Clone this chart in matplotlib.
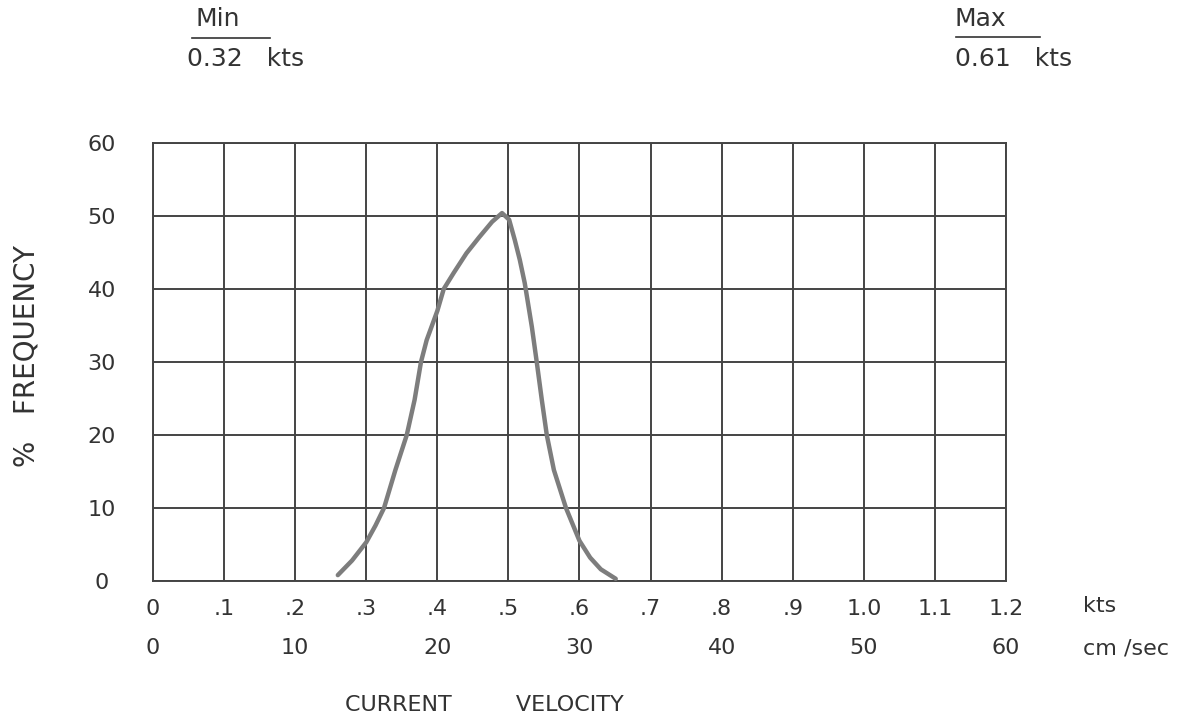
import numpy as np
import matplotlib.pyplot as plt

# Values
velocity_kts = [0.26, 0.28, 0.30, 0.313, 0.325, 0.341, 0.357, 0.368, 0.377, 0.385, 0.40,
                0.409, 0.423, 0.441, 0.459, 0.477, 0.491, 0.501, 0.509, 0.516, 0.523,
                0.533, 0.540, 0.547, 0.554, 0.564, 0.581, 0.600, 0.615, 0.630, 0.651]
frequency_pct = [0.8, 2.8, 5.3, 7.6, 10, 15.2, 20, 24.8, 30, 33, 37,
                 40, 42.2, 44.9, 47.1, 49.2, 50.4, 49.5, 46.7, 44, 40.8,
                 34.8, 29.9, 24.8, 20, 15.2, 10, 5.5, 3.2, 1.6, 0.3]

kts_ticks = [0, 0.1, 0.2, 0.3, 0.4, 0.5, 0.6, 0.7, 0.8, 0.9, 1.0, 1.1, 1.2]
kts_labels = ['0', '.1', '.2', '.3', '.4', '.5', '.6', '.7', '.8', '.9', '1.0', '1.1', '1.2']
cms_ticks = [0, 10, 20, 30, 40, 50, 60]
cms_labels = ['0', '10', '20', '30', '40', '50', '60']
freq_ticks = [0, 10, 20, 30, 40, 50, 60]
freq_labels = ['0', '10', '20', '30', '40', '50', '60']

min_kts = 0.32
max_kts = 0.61

ink = '#333333'
font = {'size': 16, 'color': ink}
head = {'size': 18, 'color': ink}

fig = plt.figure(figsize=(12.03, 7.2), dpi=100)
ax = fig.add_axes([0.1272, 0.1931, 0.709, 0.6083])

ax.plot(velocity_kts, frequency_pct, color='#7d7d7d', lw=3.2, solid_capstyle='round',
        solid_joinstyle='round', zorder=3)

ax.set_xlim(0, 1.2)
ax.set_ylim(0, 60)
ax.set_xticks(kts_ticks)
ax.set_xticklabels(kts_labels)
ax.set_yticks(freq_ticks)
ax.set_yticklabels(freq_labels, ha='center')
ax.grid(True, color='#444444', lw=1.4)
ax.tick_params(length=0, labelsize=16, labelcolor=ink)
ax.tick_params(axis='x', pad=13)
ax.tick_params(axis='y', pad=37)
for s in ax.spines.values():
    s.set_color('#444444')
    s.set_linewidth(1.4)

# second scale in cm/sec under the knots scale
sec = ax.secondary_xaxis(-0.089, functions=(lambda x: x * 50, lambda x: x / 50))
sec.set_xticks(cms_ticks)
sec.set_xticklabels(cms_labels)
sec.tick_params(length=0, labelsize=16, labelcolor=ink, pad=13)
sec.spines['bottom'].set_visible(False)

fig.text(1083 / 1203, 1 - 606 / 720, 'kts', va='center', **font)
fig.text(1083 / 1203, 1 - 648 / 720, 'cm /sec', va='center', **font)
fig.text(484 / 1203, 1 - 705 / 720, 'CURRENT         VELOCITY', ha='center', va='center', **font)
fig.text(27 / 1203, 1 - 356 / 720, '%   FREQUENCY', rotation=90, ha='center', va='center',
         size=20, color=ink)

# min / max header
fig.text(218 / 1203, 1 - 19 / 720, 'Min', ha='center', va='center', **head)
fig.lines.append(plt.Line2D([192 / 1203, 270 / 1203], [1 - 38 / 720, 1 - 38 / 720],
                            transform=fig.transFigure, color=ink, lw=1.2))
fig.text(187 / 1203, 1 - 59 / 720, f'{min_kts:.2f}   kts', va='center', **head)

fig.text(980 / 1203, 1 - 19 / 720, 'Max', ha='center', va='center', **head)
fig.lines.append(plt.Line2D([956 / 1203, 1040 / 1203], [1 - 37 / 720, 1 - 37 / 720],
                            transform=fig.transFigure, color=ink, lw=1.2))
fig.text(955 / 1203, 1 - 59 / 720, f'{max_kts:.2f}   kts', va='center', **head)

fig.savefig('out.png', dpi=100)
